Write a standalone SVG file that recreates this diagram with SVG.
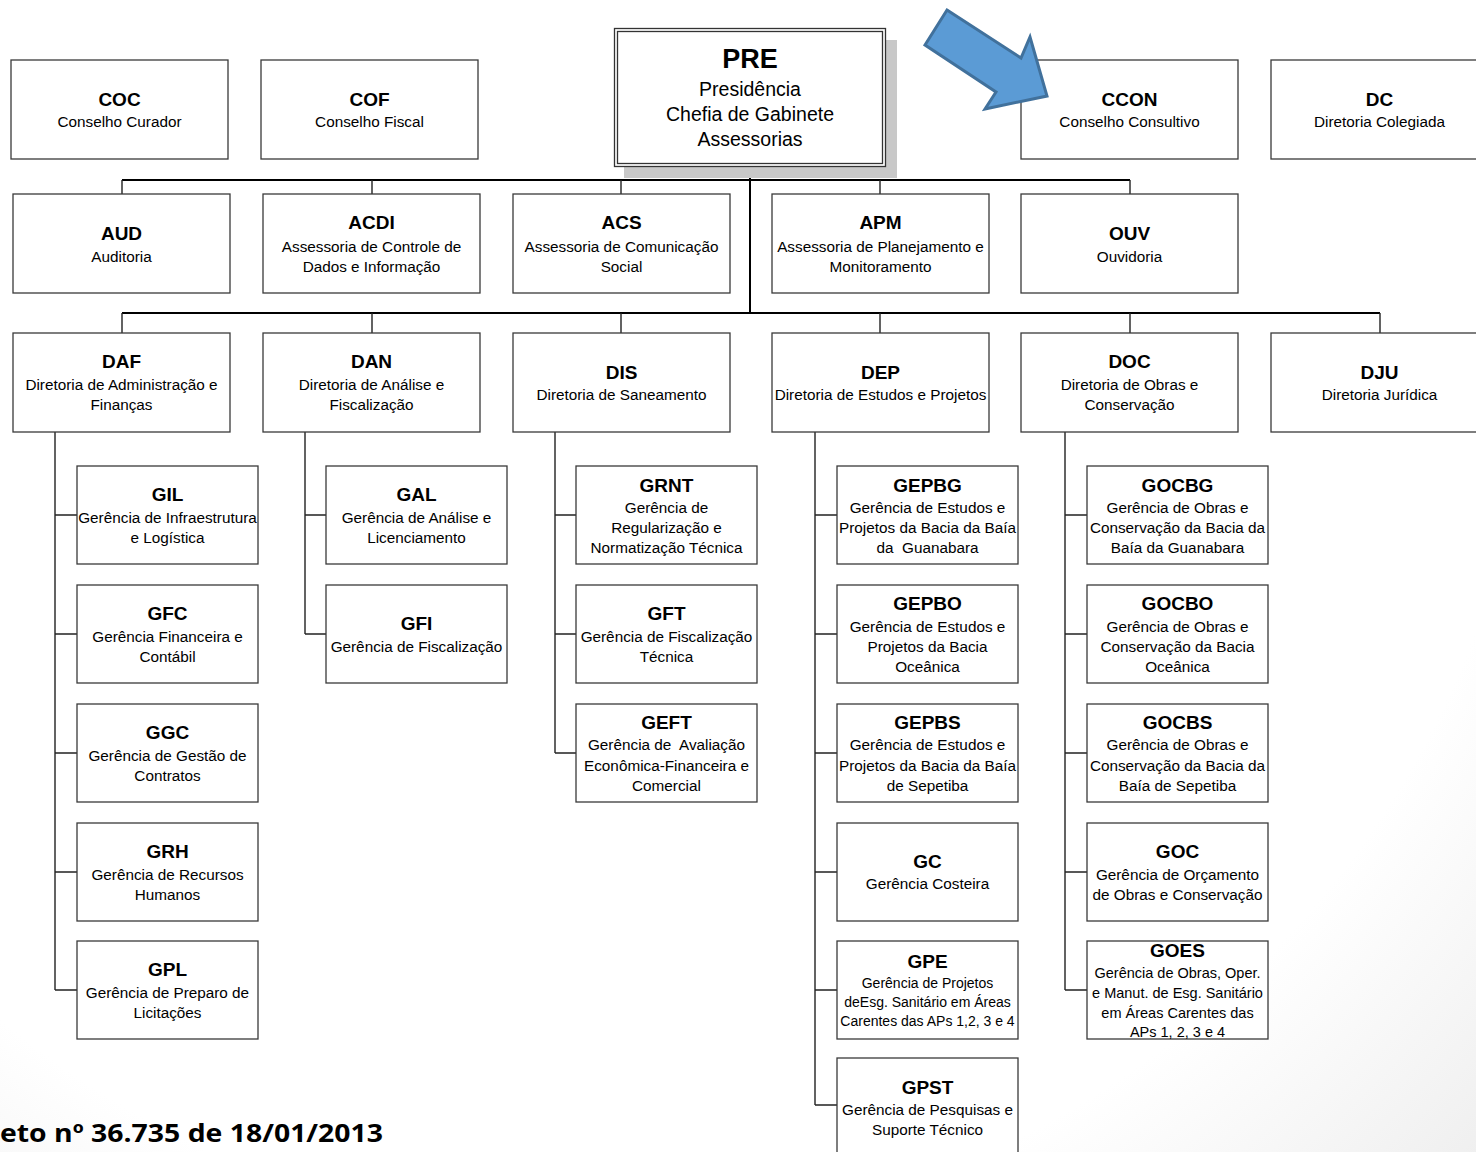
<svg xmlns="http://www.w3.org/2000/svg" width="1476" height="1152" viewBox="0 0 1476 1152">
<defs>
<radialGradient id="bg" gradientUnits="userSpaceOnUse" cx="600" cy="300" r="1300">
<stop offset="0.72" stop-color="#ffffff"/>
<stop offset="1" stop-color="#ebebeb"/>
</radialGradient>
</defs>
<style>
.box{fill:#fff;stroke:#3a3a3a;stroke-width:1.3}
.t{font-family:"Liberation Sans",Arial,sans-serif;font-weight:bold;font-size:19px;fill:#000;text-anchor:middle}
.s{font-family:"Liberation Sans",Arial,sans-serif;font-size:15.3px;fill:#000;text-anchor:middle}
.ss{font-family:"Liberation Sans",Arial,sans-serif;font-size:14.5px;fill:#000;text-anchor:middle}
.c{fill:none;stroke:#222;stroke-width:1.4}
.cm{fill:none;stroke:#000;stroke-width:2}
</style>
<rect x="0" y="0" width="1476" height="1152" fill="url(#bg)"/>

<g id="connectors">
<path class="cm" d="M750 166V313M122 180H1130M122 313H1380"/>
<path class="c" d="M122 180V194M372 180V194M621 180V194M880 180V194M1130 180V194"/>
<path class="c" d="M122 313V333M372 313V333M621 313V333M880 313V333M1130 313V333M1380 313V333"/>
<path class="c" d="M55 432V990M55 515H77M55 634H77M55 753H77M55 872H77M55 990H77"/>
<path class="c" d="M305 432V634M305 515H326M305 634H326"/>
<path class="c" d="M555 432V753M555 515H576M555 634H576M555 753H576"/>
<path class="c" d="M815 432V1105M815 515H837M815 634H837M815 753H837M815 872H837M815 990H837M815 1105H837"/>
<path class="c" d="M1065 432V990M1065 515H1087M1065 634H1087M1065 753H1087M1065 872H1087M1065 990H1087"/>
</g>

<g id="PRE">
<rect x="624" y="40" width="273" height="138" fill="#c8c8c8"/>
<rect x="614.5" y="28.5" width="271" height="138" fill="#fff" stroke="#333" stroke-width="1.3"/>
<rect x="617.5" y="31.5" width="265" height="132" fill="none" stroke="#333" stroke-width="1.3"/>
<text class="t" x="750" y="68" style="font-size:27px">PRE</text>
<text class="s" x="750" y="96" style="font-size:19.5px">Presidência</text>
<text class="s" x="750" y="121" style="font-size:19.5px">Chefia de Gabinete</text>
<text class="s" x="750" y="146" style="font-size:19.5px">Assessorias</text>
</g>

<g id="COC"><rect class="box" x="11" y="60" width="217" height="99"/><text class="t" x="119.5" y="106">COC</text><text class="s" x="119.5" y="127">Conselho Curador</text></g>
<g id="COF"><rect class="box" x="261" y="60" width="217" height="99"/><text class="t" x="369.5" y="106">COF</text><text class="s" x="369.5" y="127">Conselho Fiscal</text></g>
<g id="CCON"><rect class="box" x="1021" y="60" width="217" height="99"/><text class="t" x="1129.5" y="106">CCON</text><text class="s" x="1129.5" y="127">Conselho Consultivo</text></g>
<g id="DC"><rect class="box" x="1271" y="60" width="217" height="99"/><text class="t" x="1379.5" y="106">DC</text><text class="s" x="1379.5" y="127">Diretoria Colegiada</text></g>

<g id="arrow">
<polygon points="947,10 1021,58 1030,37 1047,96 985,109 996,92 925,45" fill="#5b9bd5" stroke="#41719c" stroke-width="3" stroke-linejoin="miter"/>
</g>

<g id="AUD"><rect class="box" x="13" y="194" width="217" height="99"/><text class="t" x="121.5" y="240">AUD</text><text class="s" x="121.5" y="262">Auditoria</text></g>
<g id="ACDI"><rect class="box" x="263" y="194" width="217" height="99"/><text class="t" x="371.5" y="229">ACDI</text><text class="s" x="371.5" y="252">Assessoria de Controle de</text><text class="s" x="371.5" y="272">Dados e Informação</text></g>
<g id="ACS"><rect class="box" x="513" y="194" width="217" height="99"/><text class="t" x="621.5" y="229">ACS</text><text class="s" x="621.5" y="252">Assessoria de Comunicação</text><text class="s" x="621.5" y="272">Social</text></g>
<g id="APM"><rect class="box" x="772" y="194" width="217" height="99"/><text class="t" x="880.5" y="229">APM</text><text class="s" x="880.5" y="252">Assessoria de Planejamento e</text><text class="s" x="880.5" y="272">Monitoramento</text></g>
<g id="OUV"><rect class="box" x="1021" y="194" width="217" height="99"/><text class="t" x="1129.5" y="240">OUV</text><text class="s" x="1129.5" y="262">Ouvidoria</text></g>

<g id="DAF"><rect class="box" x="13" y="333" width="217" height="99"/><text class="t" x="121.5" y="368">DAF</text><text class="s" x="121.5" y="390">Diretoria de Administração e</text><text class="s" x="121.5" y="410">Finanças</text></g>
<g id="DAN"><rect class="box" x="263" y="333" width="217" height="99"/><text class="t" x="371.5" y="368">DAN</text><text class="s" x="371.5" y="390">Diretoria de Análise e</text><text class="s" x="371.5" y="410">Fiscalização</text></g>
<g id="DIS"><rect class="box" x="513" y="333" width="217" height="99"/><text class="t" x="621.5" y="379">DIS</text><text class="s" x="621.5" y="400">Diretoria de Saneamento</text></g>
<g id="DEP"><rect class="box" x="772" y="333" width="217" height="99"/><text class="t" x="880.5" y="379">DEP</text><text class="s" x="880.5" y="400">Diretoria de Estudos e Projetos</text></g>
<g id="DOC"><rect class="box" x="1021" y="333" width="217" height="99"/><text class="t" x="1129.5" y="368">DOC</text><text class="s" x="1129.5" y="390">Diretoria de Obras e</text><text class="s" x="1129.5" y="410">Conservação</text></g>
<g id="DJU"><rect class="box" x="1271" y="333" width="217" height="99"/><text class="t" x="1379.5" y="379">DJU</text><text class="s" x="1379.5" y="400">Diretoria Jurídica</text></g>

<g id="GIL"><rect class="box" x="77" y="466" width="181" height="98"/><text class="t" x="167.5" y="501">GIL</text><text class="s" x="167.5" y="523">Gerência de Infraestrutura</text><text class="s" x="167.5" y="543">e Logística</text></g>
<g id="GFC"><rect class="box" x="77" y="585" width="181" height="98"/><text class="t" x="167.5" y="620">GFC</text><text class="s" x="167.5" y="642">Gerência Financeira e</text><text class="s" x="167.5" y="662">Contábil</text></g>
<g id="GGC"><rect class="box" x="77" y="704" width="181" height="98"/><text class="t" x="167.5" y="739">GGC</text><text class="s" x="167.5" y="761">Gerência de Gestão de</text><text class="s" x="167.5" y="781">Contratos</text></g>
<g id="GRH"><rect class="box" x="77" y="823" width="181" height="98"/><text class="t" x="167.5" y="858">GRH</text><text class="s" x="167.5" y="880">Gerência de Recursos</text><text class="s" x="167.5" y="900">Humanos</text></g>
<g id="GPL"><rect class="box" x="77" y="941" width="181" height="98"/><text class="t" x="167.5" y="976">GPL</text><text class="s" x="167.5" y="998">Gerência de Preparo de</text><text class="s" x="167.5" y="1018">Licitações</text></g>

<g id="GAL"><rect class="box" x="326" y="466" width="181" height="98"/><text class="t" x="416.5" y="501">GAL</text><text class="s" x="416.5" y="523">Gerência de Análise e</text><text class="s" x="416.5" y="543">Licenciamento</text></g>
<g id="GFI"><rect class="box" x="326" y="585" width="181" height="98"/><text class="t" x="416.5" y="630">GFI</text><text class="s" x="416.5" y="652">Gerência de Fiscalização</text></g>

<g id="GRNT"><rect class="box" x="576" y="466" width="181" height="98"/><text class="t" x="666.5" y="492">GRNT</text><text class="s" x="666.5" y="513">Gerência de</text><text class="s" x="666.5" y="533">Regularização e</text><text class="s" x="666.5" y="553">Normatização Técnica</text></g>
<g id="GFT"><rect class="box" x="576" y="585" width="181" height="98"/><text class="t" x="666.5" y="620">GFT</text><text class="s" x="666.5" y="642">Gerência de Fiscalização</text><text class="s" x="666.5" y="662">Técnica</text></g>
<g id="GEFT"><rect class="box" x="576" y="704" width="181" height="98"/><text class="t" x="666.5" y="729">GEFT</text><text class="s" x="666.5" y="750" xml:space="preserve">Gerência de  Avaliação</text><text class="s" x="666.5" y="771">Econômica-Financeira e</text><text class="s" x="666.5" y="791">Comercial</text></g>

<g id="GEPBG"><rect class="box" x="837" y="466" width="181" height="98"/><text class="t" x="927.5" y="492">GEPBG</text><text class="s" x="927.5" y="513">Gerência de Estudos e</text><text class="s" x="927.5" y="533">Projetos da Bacia da Baía</text><text class="s" x="927.5" y="553" xml:space="preserve">da  Guanabara</text></g>
<g id="GEPBO"><rect class="box" x="837" y="585" width="181" height="98"/><text class="t" x="927.5" y="610">GEPBO</text><text class="s" x="927.5" y="632">Gerência de Estudos e</text><text class="s" x="927.5" y="652">Projetos da Bacia</text><text class="s" x="927.5" y="672">Oceânica</text></g>
<g id="GEPBS"><rect class="box" x="837" y="704" width="181" height="98"/><text class="t" x="927.5" y="729">GEPBS</text><text class="s" x="927.5" y="750">Gerência de Estudos e</text><text class="s" x="927.5" y="771">Projetos da Bacia da Baía</text><text class="s" x="927.5" y="791">de Sepetiba</text></g>
<g id="GC"><rect class="box" x="837" y="823" width="181" height="98"/><text class="t" x="927.5" y="868">GC</text><text class="s" x="927.5" y="889">Gerência Costeira</text></g>
<g id="GPE"><rect class="box" x="837" y="941" width="181" height="98"/><text class="t" x="927.5" y="968">GPE</text><text class="ss" x="927.5" y="988" style="font-size:14px">Gerência de Projetos</text><text class="ss" x="927.5" y="1007" style="font-size:14px">deEsg. Sanitário em Áreas</text><text class="ss" x="927.5" y="1026" style="font-size:14px">Carentes das APs 1,2, 3 e 4</text></g>
<g id="GPST"><rect class="box" x="837" y="1058" width="181" height="100"/><text class="t" x="927.5" y="1094">GPST</text><text class="s" x="927.5" y="1115">Gerência de Pesquisas e</text><text class="s" x="927.5" y="1135">Suporte Técnico</text></g>

<g id="GOCBG"><rect class="box" x="1087" y="466" width="181" height="98"/><text class="t" x="1177.5" y="492">GOCBG</text><text class="s" x="1177.5" y="513">Gerência de Obras e</text><text class="s" x="1177.5" y="533">Conservação da Bacia da</text><text class="s" x="1177.5" y="553">Baía da Guanabara</text></g>
<g id="GOCBO"><rect class="box" x="1087" y="585" width="181" height="98"/><text class="t" x="1177.5" y="610">GOCBO</text><text class="s" x="1177.5" y="632">Gerência de Obras e</text><text class="s" x="1177.5" y="652">Conservação da Bacia</text><text class="s" x="1177.5" y="672">Oceânica</text></g>
<g id="GOCBS"><rect class="box" x="1087" y="704" width="181" height="98"/><text class="t" x="1177.5" y="729">GOCBS</text><text class="s" x="1177.5" y="750">Gerência de Obras e</text><text class="s" x="1177.5" y="771">Conservação da Bacia da</text><text class="s" x="1177.5" y="791">Baía de Sepetiba</text></g>
<g id="GOC"><rect class="box" x="1087" y="823" width="181" height="98"/><text class="t" x="1177.5" y="858">GOC</text><text class="s" x="1177.5" y="880">Gerência de Orçamento</text><text class="s" x="1177.5" y="900">de Obras e Conservação</text></g>
<g id="GOES"><rect class="box" x="1087" y="941" width="181" height="98"/><text class="t" x="1177.5" y="957">GOES</text><text class="ss" x="1177.5" y="978">Gerência de Obras, Oper.</text><text class="ss" x="1177.5" y="998">e Manut. de Esg. Sanitário</text><text class="ss" x="1177.5" y="1018">em Áreas Carentes das</text><text class="ss" x="1177.5" y="1037">APs 1, 2, 3 e 4</text></g>

<text x="0" y="1142" textLength="383" lengthAdjust="spacingAndGlyphs" style="font-family:'Open Sans',Lato,sans-serif;font-weight:bold;font-size:25px;fill:#000">eto nº 36.735 de 18/01/2013</text>
</svg>
